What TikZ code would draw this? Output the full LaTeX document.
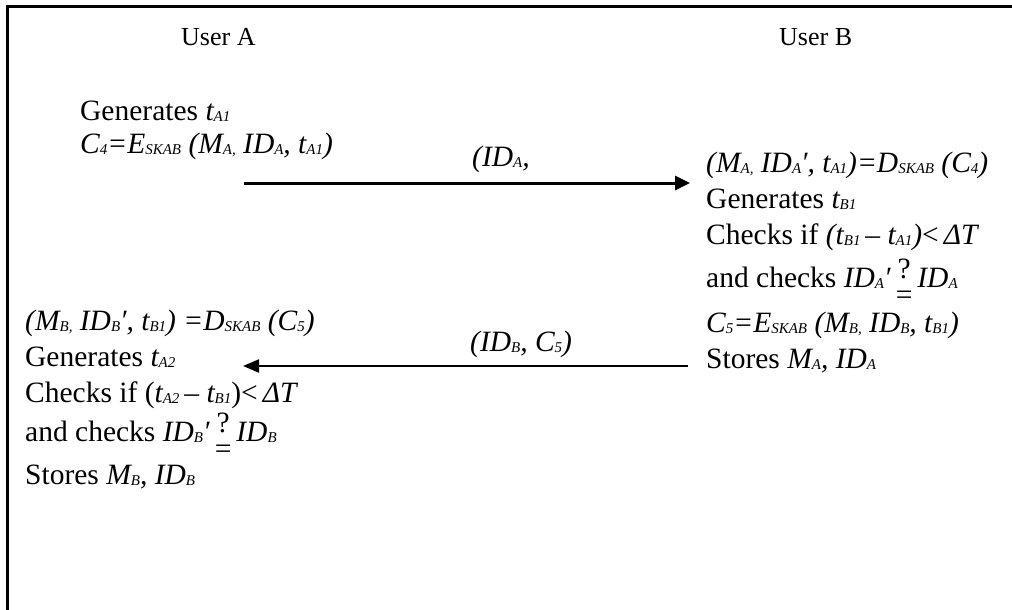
\documentclass[tikz,border=0pt]{standalone}
\usepackage{fontspec}
\setmainfont{Liberation Serif}
\usetikzlibrary{arrows.meta}

% small subscript-like indices set in the running shape
\newcommand\lo[1]{\raisebox{-1.5pt}{\fontsize{15}{15}\selectfont #1}}
% question mark stacked over an equals sign, the sign sitting below the baseline
\newcommand\qeq{\mbox{\smash{\ooalign{\hfil\raisebox{9pt}{?}\hfil\cr\raisebox{-17pt}{=}\cr}}}}
\newcommand\dT{\textit{ΔT}}

\begin{document}
\begin{tikzpicture}[x=1pt,y=-1pt,
  txt/.style={anchor=base west,inner sep=0pt,font=\fontsize{29.5}{37}\selectfont},
  head/.style={txt,font=\fontsize{26}{37}\selectfont},
  msg/.style={-{Triangle[length=15pt,width=14pt]},line width=3pt},
  msgb/.style={-{Triangle[length=16pt,width=13pt]},line width=2.2pt}]
\useasboundingbox (0,0) rectangle (1012,610);

% frame edges
\draw[line width=3pt] (7.5,610) -- (7.5,6.5) -- (1012,6.5);

% party headers
\node[head] (ua) at (181,46) {User A};
\node[head] (ub) at (779,46) {User B};

% user A, first step
\node[txt] (a1) at (80,120) {Generates \textit{t\lo{A1}}};
\node[txt] (a2) at (80,153) {\textit{C\lo{4}=E\lo{SKAB} (M\lo{A,} ID\lo{A}, t\lo{A1})}};

% message A -> B
\coordinate (m1s) at (244,183);
\coordinate (m1e) at (690,183);
\draw[msg] (m1s) -- (m1e);
\node[txt] (l1) at (472,166) {\textit{(ID\lo{A},}};

% user B
\node[txt] (b1) at (706,172) {\textit{(M\lo{A,} ID\lo{A}′, t\lo{A1})=D\lo{SKAB} (C\lo{4})}};
\node[txt] (b2) at (706,208) {Generates \textit{t\lo{B1}}};
\node[txt] (b3) at (706,244) {Checks if \textit{(t\lo{B1}}\,–\ \textit{t\lo{A1})}<\,\dT};
\node[txt] (b4) at (706,287) {and checks \textit{ID\lo{A}′}\,\qeq\,\textit{ID\lo{A}}};
\node[txt] (b5) at (706,332) {\textit{C\lo{5}=E\lo{SKAB} (M\lo{B,} ID\lo{B}, t\lo{B1})}};
\node[txt] (b6) at (706,368) {Stores \textit{M\lo{A}, ID\lo{A}}};

% message B -> A
\coordinate (m2s) at (688,366);
\coordinate (m2e) at (243,366);
\draw[msgb] (m2s) -- (m2e);
\node[txt] (l2) at (470,351) {\textit{(ID\lo{B}, C\lo{5})}};

% user A, second step
\node[txt] (c1) at (25,330) {\textit{(M\lo{B,} ID\lo{B}′, t\lo{B1}) =D\lo{SKAB} (C\lo{5})}};
\node[txt] (c2) at (25,366) {Generates \textit{t\lo{A2}}};
\node[txt] (c3) at (25,402) {Checks if (\textit{t\lo{A2}}\,–\ \textit{t\lo{B1}})<\,\dT};
\node[txt] (c4) at (25,441) {and checks \textit{ID\lo{B}′}\,\qeq\,\textit{ID\lo{B}}};
\node[txt] (c5) at (25,484) {Stores \textit{M\lo{B}, ID\lo{B}}};
\end{tikzpicture}
\end{document}
